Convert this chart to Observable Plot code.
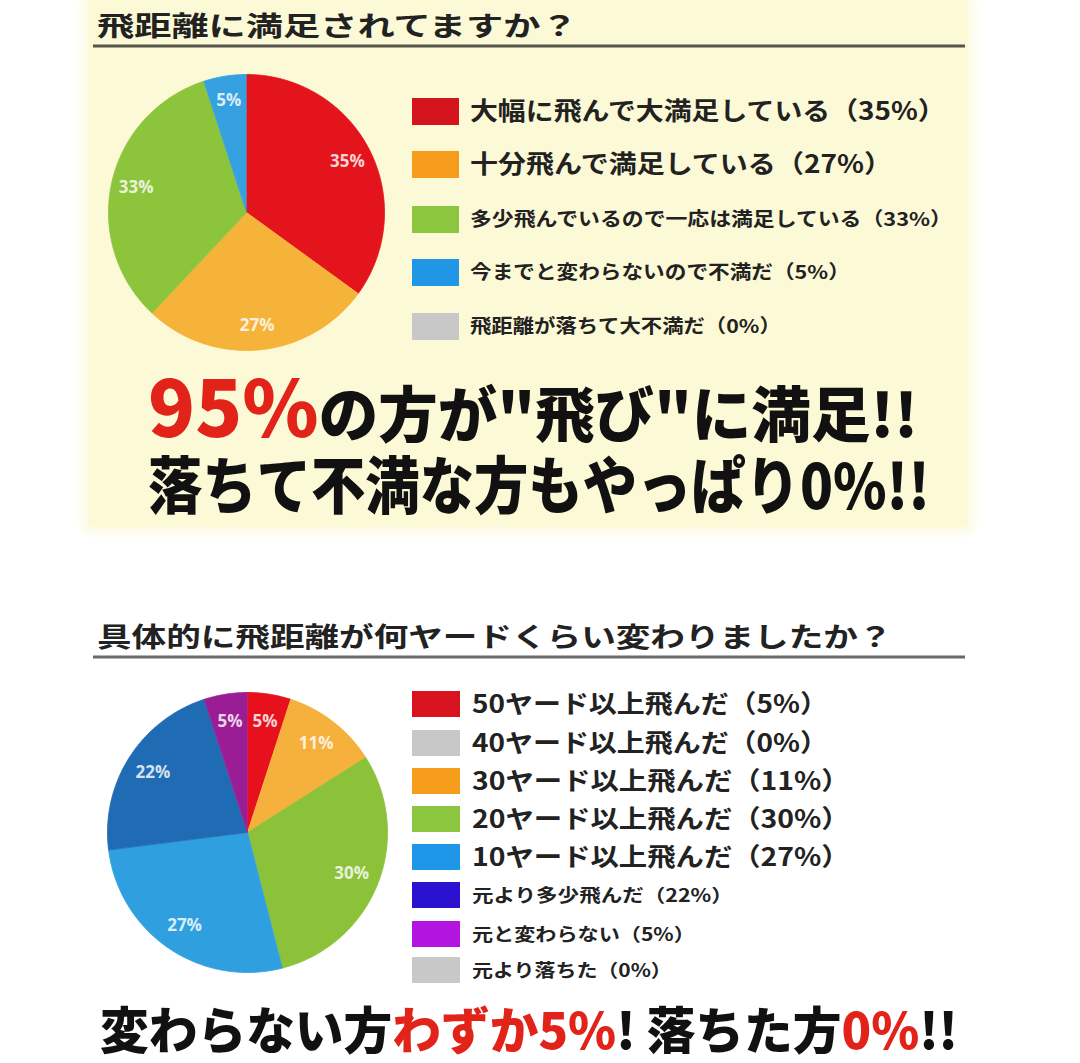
<!DOCTYPE html>
<html>
<head>
<meta charset="utf-8">
<script src="https://cdn.jsdelivr.net/npm/d3@7"></script>
<script src="https://cdn.jsdelivr.net/npm/@observablehq/plot@0.6"></script>
<style>
  html, body { margin: 0; padding: 0; background: #ffffff; }
  body { width: 1080px; height: 1063px; position: relative; overflow: hidden; font-family: "Noto Sans CJK JP", sans-serif; }
  #panel { position: absolute; left: 88px; top: 0; width: 880px; height: 527px; background: #fcf9d6; box-shadow: 0 0 10px 6px #fdfbe4; }
  #overlay { position: absolute; left: 0; top: 0; }
  .pie { position: absolute; }
</style>
</head>
<body>
<div id="panel"></div>
<div id="pie1" class="pie"></div>
<div id="pie2" class="pie"></div>
<svg id="overlay" width="1080" height="1063"></svg>
<script>
// ---------- data ----------
const q1Title = "飛距離に満足されてますか？";
const q1Labels = ["大幅に飛んで大満足している", "十分飛んで満足している", "多少飛んでいるので一応は満足している", "今までと変わらないので不満だ", "飛距離が落ちて大不満だ"];
const q1Values = [35, 27, 33, 5, 0];
const q1PieColors = ["#e3141c", "#f5b33a", "#8cc43c", "#36a1e0", "#c9c9c9"];
const q1SwatchColors = ["#d3141d", "#f59c1c", "#8cc63f", "#1f97e6", "#c8c8c8"];

const q2Title = "具体的に飛距離が何ヤードくらい変わりましたか？";
const q2Labels = ["50ヤード以上飛んだ", "40ヤード以上飛んだ", "30ヤード以上飛んだ", "20ヤード以上飛んだ", "10ヤード以上飛んだ", "元より多少飛んだ", "元と変わらない", "元より落ちた"];
const q2Values = [5, 0, 11, 30, 27, 22, 5, 0];
const q2PieColors = ["#e6111c", "#c9c9c9", "#f6b03c", "#8cc13a", "#2f9fe0", "#1f6cb5", "#9a1d96", "#c9c9c9"];
const q2SwatchColors = ["#d8141f", "#c8c8c8", "#f59d1a", "#8cc63f", "#1e96e8", "#2a12d0", "#b414e0", "#c8c8c8"];

const headline1a = "95%";
const headline1b = "の方が\"飛び\"に満足!!";
const headline2 = "落ちて不満な方もやっぱり0%!!";
const footer = [
  {text: "変わらない方", red: false},
  {text: "わずか5%", red: true},
  {text: "! 落ちた方", red: false},
  {text: "0%", red: true},
  {text: "!!", red: false}
];

// ---------- pies ----------
function pieChart(values, colors, radiusPx, labelR) {
  const size = 2 * radiusPx + 10;
  const e = size / 2 / radiusPx;
  const arcs = d3.pie().sort(null).value(d => d)(values);
  const poly = [], labels = [];
  arcs.forEach((a, i) => {
    const span = a.endAngle - a.startAngle;
    if (span <= 0) return;
    poly.push({k: i, x: 0, y: 0, c: colors[i]});
    const n = Math.max(2, Math.ceil(span / (Math.PI / 180)));
    for (let j = 0; j <= n; j++) {
      const t = a.startAngle + span * j / n;
      poly.push({k: i, x: Math.sin(t), y: Math.cos(t), c: colors[i]});
    }
    const m = (a.startAngle + a.endAngle) / 2;
    labels.push({x: labelR * Math.sin(m), y: labelR * Math.cos(m), t: values[i] + "%"});
  });
  return Plot.plot({
    width: size, height: size, margin: 0,
    x: {domain: [-e, e], axis: null},
    y: {domain: [-e, e], axis: null},
    color: {type: "identity"},
    style: {background: "transparent", overflow: "visible"},
    marks: [
      Plot.line(poly, {x: "x", y: "y", z: "k", fill: "c", stroke: "c", strokeWidth: 0.8, curve: "linear"}),
      Plot.text(labels, {x: "x", y: "y", text: "t", fill: "white", fillOpacity: 0.82,
        fontSize: 17, fontWeight: "bold", fontFamily: "Open Sans, sans-serif"})
    ]
  });
}

const p1 = document.getElementById("pie1");
p1.style.left = (246 - 143) + "px"; p1.style.top = (212 - 143) + "px";
p1.appendChild(pieChart(q1Values, q1PieColors, 138, 0.82));
const p2 = document.getElementById("pie2");
p2.style.left = (247 - 145) + "px"; p2.style.top = (832 - 145) + "px";
p2.appendChild(pieChart(q2Values, q2PieColors, 140, 0.8));

// ---------- texts ----------
const svg = d3.select("#overlay").attr("font-family", "'Noto Sans CJK JP', sans-serif");

function fit(sel, x, x2) {
  const w = sel.node().getBBox().width;
  if (w > 0) sel.attr("transform", `translate(${x},0) scale(${(x2 - x) / w},1) translate(${-x},0)`);
}
function addText(x, y, x2, fs, parts, color, weight) {
  const t = svg.append("text").attr("x", x).attr("y", y).attr("font-size", fs)
    .attr("font-weight", weight || 700).attr("fill", color || "#1c1c1c");
  parts.forEach(p => {
    const s = t.append("tspan").text(p.text);
    if (p.color) s.attr("fill", p.color);
    if (p.fs) s.attr("font-size", p.fs);
  });
  fit(t, x, x2);
  return t;
}

// titles + underline
addText(97, 36, 578, 27, [{text: q1Title}], "#222");
svg.append("line").attr("x1", 93).attr("x2", 965).attr("y1", 46).attr("y2", 46)
  .attr("stroke", "#55554a").attr("stroke-width", 3);
addText(97, 647, 893, 27, [{text: q2Title}], "#222");
svg.append("line").attr("x1", 93).attr("x2", 965).attr("y1", 657).attr("y2", 657)
  .attr("stroke", "#6a6a6a").attr("stroke-width", 3);

// legends
const leg1Y = [111, 164, 219, 272, 326];
const leg1End = [946, 892, 952, 850, 781];
const leg1Fs = [25, 25, 19, 19, 19];
q1Labels.forEach((l, i) => {
  svg.append("rect").attr("x", 412).attr("y", leg1Y[i] - 13).attr("width", 47).attr("height", 27)
    .attr("fill", q1SwatchColors[i]);
  addText(470, leg1Y[i] + 0.38 * leg1Fs[i], leg1End[i], leg1Fs[i], [{text: `${l}（${q1Values[i]}%）`}], "#222");
});

const leg2Y = [704, 743, 781, 819, 857, 895, 934, 970];
const leg2End = [828, 828, 850, 850, 850, 733, 695, 672];
const leg2Fs = [25, 25, 25, 25, 25, 18, 18, 18];
q2Labels.forEach((l, i) => {
  svg.append("rect").attr("x", 412).attr("y", leg2Y[i] - 13).attr("width", 48).attr("height", 26)
    .attr("fill", q2SwatchColors[i]);
  addText(472, leg2Y[i] + 0.38 * leg2Fs[i], leg2End[i], leg2Fs[i], [{text: `${l}（${q2Values[i]}%）`}], "#222");
});

// headlines
addText(148, 437, 918, 60, [{text: headline1a, color: "#e2231a", fs: 78}, {text: headline1b}], "#111", 900);
addText(148, 509, 930, 62, [{text: headline2}], "#111", 900);
addText(100, 1049, 958, 50, footer.map(f => ({text: f.text, color: f.red ? "#e2231a" : null})), "#111", 900);
</script>
</body>
</html>
